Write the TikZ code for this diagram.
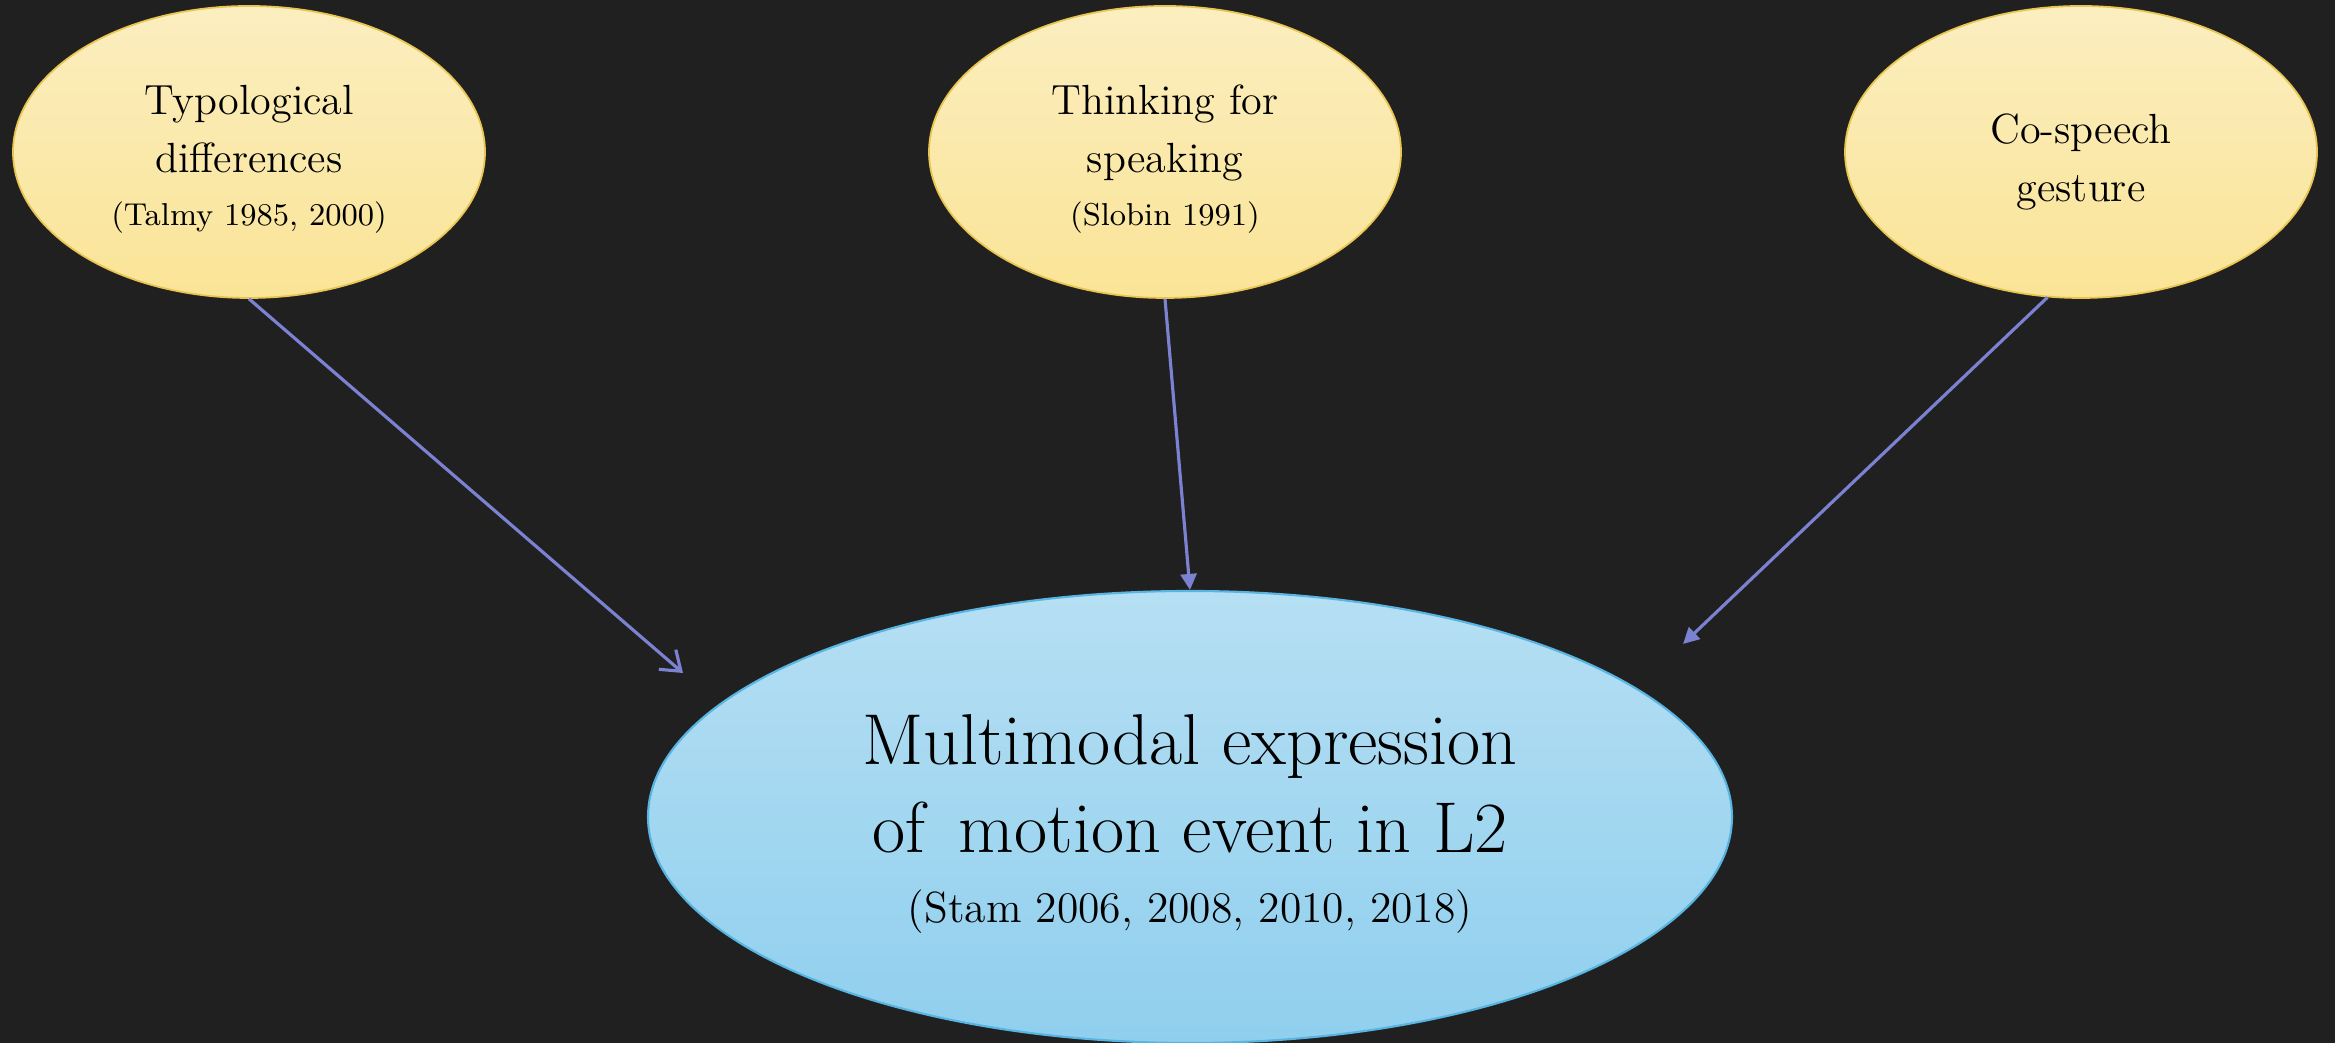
\documentclass[tikz,border=0pt]{standalone}
\usepackage{tikz}
\usetikzlibrary{shapes.geometric,arrows.meta,positioning}

\definecolor{board}{RGB}{32,32,32}
\definecolor{sandtop}{RGB}{251,238,192}
\definecolor{sandbot}{RGB}{250,228,150}
\definecolor{sandline}{RGB}{232,196,80}
\definecolor{skytop}{RGB}{182,223,243}
\definecolor{skybot}{RGB}{143,207,238}
\definecolor{skyline}{RGB}{88,180,225}
\definecolor{linkblue}{RGB}{124,130,210}

\newcommand{\citesmall}{\fontsize{9}{11}\selectfont}
\newcommand{\citelarge}{\fontsize{12.4}{14}\selectfont}

\begin{document}
\begin{tikzpicture}[
  idea/.style={ellipse, draw=sandline, line width=0.5pt, top color=sandtop, bottom color=sandbot,
    minimum width=4.72cm, minimum height=2.92cm, inner sep=0pt, align=center,
    font=\fontsize{12}{16.3}\selectfont, text height=42pt, text depth=0pt},
  result/.style={ellipse, draw=skyline, line width=0.6pt, top color=skytop, bottom color=skybot,
    minimum width=10.84cm, minimum height=4.52cm, inner sep=0pt, align=center,
    font=\fontsize{20.5}{25}\selectfont, text height=60.3pt, text depth=0pt},
  feeds/.style={-{Triangle[length=1.6mm,width=1.6mm]}, line width=0.9pt, draw=linkblue}
]
  % Chalkboard
  \fill[board] (0,0) rectangle (23.35,10.43);
  \useasboundingbox (0,0) rectangle (23.35,10.43);

  % Sources
  \node[idea] (typo) at (2.49,8.91) {Typological\\differences\\[-1pt]{\citesmall (Talmy 1985, 2000)}};
  \node[idea] (tfs) at (11.65,8.91) {Thinking for\\speaking\\[-1pt]{\citesmall (Slobin 1991)}};
  \node[idea, text height=28pt] (gest) at (20.81,8.91) {Co-speech\\gesture};

  % Target
  \node[result] (multi) at (11.90,2.26) {Multimodal expression\\of\, motion event in L2\\[-5pt]{\citelarge (Stam 2006, 2008, 2010, 2018)}};

  % Free arrow ends
  \coordinate (inL) at (6.83,3.70);
  \coordinate (inR) at (16.83,3.99);

  % Arrows
  \draw[feeds, -{Straight Barb[length=1.8mm,width=2.6mm]}] (typo.south) -- (inL);
  \draw[feeds] (tfs.south) -- (multi.north);
  \draw[feeds] (gest.257) -- (inR);
\end{tikzpicture}
\end{document}
